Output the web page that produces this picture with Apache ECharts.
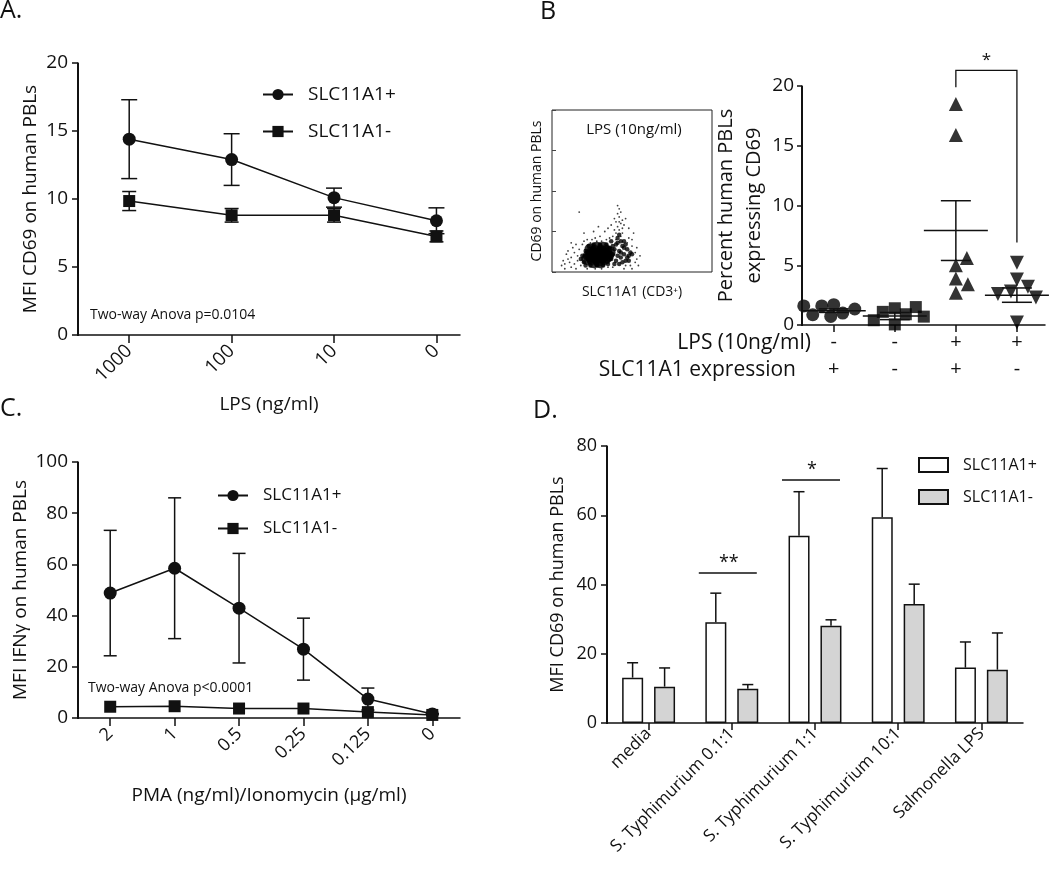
<!DOCTYPE html>
<html><head><meta charset="utf-8">
<script src="https://cdn.jsdelivr.net/npm/echarts@6/dist/echarts.min.js"></script>
<style>html,body{margin:0;padding:0;background:#fff}#c{width:1050px;height:876px}</style>
</head><body><div id="c"></div>
<script>
// ---------- Panel A ----------
const lpsDoses = ['1000', '100', '10', '0'];
const aPlusMean = [14.4, 12.9, 10.1, 8.4];
const aPlusErr = [2.9, 1.9, 0.7, 0.95];
const aMinusMean = [9.85, 8.8, 8.8, 7.25];
const aMinusErr = [0.7, 0.5, 0.5, 0.4];
// ---------- Panel B ----------
const bLpsRow = ['-', '-', '+', '+'];
const bSlcRow = ['+', '-', '+', '-'];
const bCircles = [1.7, 1.0, 1.6, 0.72, 1.34, 0.86, 1.6];
const bSquares = [1.4, 0.9, 0.05, 1.1, 1.5, 0.4, 0.7];
const bTriangles = [18.5, 15.9, 5.0, 5.6, 2.7, 3.9, 3.4];
const bInverted = [5.2, 3.8, 3.2, 2.8, 2.6, 2.3, 0.2];
const bMean = [1.2, 0.75, 7.9, 2.5];
const bSem = [0.15, 0.3, 2.5, 0.6];
const bBracket = [3, 4, 21.3, 19.9, 6.9]; // from group, to group, top, left end, right end
const flowCore = [[23,10],[25,8],[25,12],[27,9],[27,13],[29,7],[29,11],[31,9],[31,13],[33,8],[33,11],[35,10],[24,14],[28,15],[32,15],[26,6],[30,6],[34,13],[22,8],[36,12],[24,10],[26,11],[28,9],[30,12],[32,10],[34,9]];
const flowDense = [[37,8],[38,11],[39,14],[40,7],[41,10],[42,13],[43,9],[44,16],[45,11],[46,7],[47,14],[48,10],[49,12],[38,16],[40,17],[42,5],[44,6],[46,17],[48,7],[50,11],[36,15],[39,5],[41,18],[43,12],[45,15],[47,9],[20,6],[19,10],[21,13],[18,8],[21,4],[24,4],[28,4],[32,4],[35,5],[23,16],[26,17],[30,17],[34,17],[37,19],[43,19],[45,19],[41,21],[42,23]];
const flowSparse = [[40,24],[42,26],[41,28],[43,30],[40,31],[44,32],[42,34],[41,36],[43,37],[42,39],[41,41],[44,27],[39,26],[45,29],[43,22],[40,20],[44,24],[42,31],[46,33],[39,33],
  [17,37],[10,8],[8,5],[12,3],[14,12],[15,2],[6,4],[52,6],[55,10],[50,2],[53,15],[30,22],[25,20],[33,25],[28,19],[36,21],[20,19],[48,21],[51,24],[13,15],[9,11],[31,2],[38,3],[45,2],[27,2],[22,2],[18,4],[35,3],[54,4],[47,18],
  [16,7],[14,5],[11,6],[17,14],[19,17],[22,20],[24,18],[27,21],[31,19],[34,20],[38,22],[50,16],[52,12],[53,8],[49,4],[46,4],[16,10],[15,17],[12,9],[7,7],[10,13],[20,24],[26,25],[35,27],[48,27],[29,28],[37,29],[50,20],[12,18],[8,2]];
// ---------- Panel C ----------
const pmaDoses = ['2', '1', '0.5', '0.25', '0.125', '0'];
const cPlusMean = [48.8, 58.5, 42.9, 26.9, 7.4, 1.6];
const cPlusErr = [24.5, 27.5, 21.4, 12.1, 4.3, 0];
const cMinusMean = [4.4, 4.6, 3.7, 3.7, 2.3, 1.2];
// ---------- Panel D ----------
const dCats = ['media', 'S. Typhimurium 0.1:1', 'S. Typhimurium 1:1', 'S. Typhimurium 10:1', 'Salmonella LPS'];
const dPlusMean = [13.1, 29.1, 54.1, 59.4, 16.0];
const dPlusErr = [4.3, 8.4, 12.7, 14.1, 7.4];
const dMinusMean = [10.5, 9.9, 28.1, 34.4, 15.4];
const dMinusErr = [5.4, 1.2, 1.7, 5.7, 10.6];
const dSigCat = [1, 2];
const dSigY = [43.3, 70.2];
const dSigText = ['**', '*'];

const FONT = 'Open Sans';
const INK = '#111';
const chart = echarts.init(document.getElementById('c'), null, {renderer: 'canvas'});

const line = () => ({show: true, lineStyle: {color: INK, width: 1.5}});
const tick = (len, extra) => Object.assign({show: true, length: len, lineStyle: {color: INK, width: 1.5}}, extra || {});
const pos = arr => arr.map((_, i) => i + 1);   // groups sit at 1..n on value x axes

// beeswarm offsets (pixel collision), converted to axis units
function swarm(vals, center, pxX, pxY, d) {
  const placed = [];
  return vals.map(v => {
    const py = v * pxY;
    let off = 0;
    for (let k = 0; k < 400; k++) {
      const o = (k % 2 ? 1 : -1) * Math.ceil(k / 2);
      if (placed.every(p => (p[0] - o) ** 2 + (p[1] - py) ** 2 >= d * d)) { off = o; break; }
    }
    placed.push([off, py]);
    return [center + off / pxX, v];
  });
}
const B_MIN = 0.48, B_MAX = 4.46, B_W = 243, B_H = 239;
const pxBX = B_W / (B_MAX - B_MIN), pxBY = B_H / 20;

const gridBoxes = [
  {left: 78, top: 63, width: 382, height: 272},
  {left: 552, top: 110, width: 160, height: 162, show: true, borderColor: '#222', borderWidth: 1},
  {left: 802, top: 86, width: B_W, height: B_H},
  {left: 78, top: 462, width: 382, height: 256},
  {left: 607, top: 446, width: 416, height: 277}
];

function errSeries(name, xi, means, errs, opt) {
  const base = opt.base === undefined ? 1 : opt.base;
  return {
    type: 'custom', name: name, xAxisIndex: xi, yAxisIndex: xi, z: opt.z || 1, silent: true,
    data: means.map((m, i) => [i + base, m, errs[i]]),
    renderItem: (params, api) => {
      const x = api.value(0), m = api.value(1), e = api.value(2);
      const off = opt.offset || 0, cap = opt.cap / 2;
      const t = api.coord([x, m + e]);
      const b = api.coord([x, opt.down ? m - e : m]);
      const tx = t[0] + off;
      const st = {stroke: INK, lineWidth: 1.5};
      const ch = [
        {type: 'line', shape: {x1: tx, y1: t[1], x2: tx, y2: b[1]}, style: st},
        {type: 'line', shape: {x1: tx - cap, y1: t[1], x2: tx + cap, y2: t[1]}, style: st}
      ];
      if (opt.down) ch.push({type: 'line', shape: {x1: tx - cap, y1: b[1], x2: tx + cap, y2: b[1]}, style: st});
      return {type: 'group', children: ch};
    }
  };
}

const txt = (text, x, y, size, extra) => ({
  type: 'text', x: x, y: y, silent: true, z: 100,
  style: Object.assign({text: text, fontSize: size, fontFamily: FONT, fill: INK}, extra || {})
});
// left axis line of a grid, drawn as a thin filled strip along the grid's left edge
const axisEdge = g => ({
  type: 'rect', silent: true, z: 100,
  shape: {x: g.left - 1, y: g.top, width: 2, height: g.height + 1},
  style: {fill: INK}
});

const option = {
  animation: false,
  backgroundColor: '#fff',
  textStyle: {fontFamily: FONT, color: INK},
  grid: gridBoxes,
  xAxis: [
    {gridIndex: 0, type: 'value', min: 0.5, max: 4.23, splitLine: {show: false}, axisLine: line(),
     axisTick: tick(8, {customValues: pos(lpsDoses)}),
     axisLabel: {customValues: pos(lpsDoses), formatter: v => lpsDoses[v - 1], rotate: 45, fontSize: 19, color: INK, margin: 13},
     name: 'LPS (ng/ml)', nameLocation: 'middle', nameGap: 60, nameTextStyle: {fontSize: 19, color: INK}},
    {gridIndex: 1, type: 'value', min: 0, max: 100, splitLine: {show: false}, axisLine: {show: false},
     axisTick: {show: false}, axisLabel: {show: false},
     name: 'SLC11A1 (CD3⁺)', nameLocation: 'middle', nameGap: 13, nameTextStyle: {fontSize: 14, color: INK}},
    {gridIndex: 2, type: 'value', min: B_MIN, max: B_MAX, splitLine: {show: false}, axisLine: line(),
     axisTick: tick(7, {customValues: pos(bLpsRow)}),
     axisLabel: {customValues: pos(bLpsRow), formatter: v => bLpsRow[v - 1] + '\n' + bSlcRow[v - 1], fontSize: 20, lineHeight: 27, color: INK, margin: 4}},
    {gridIndex: 3, type: 'value', min: 0.5, max: 6.43, splitLine: {show: false}, axisLine: line(),
     axisTick: tick(8, {customValues: pos(pmaDoses)}),
     axisLabel: {customValues: pos(pmaDoses), formatter: v => pmaDoses[v - 1], rotate: 45, fontSize: 18, color: INK, margin: 13},
     name: 'PMA (ng/ml)/Ionomycin (μg/ml)', nameLocation: 'middle', nameGap: 68, nameTextStyle: {fontSize: 19, color: INK}},
    {gridIndex: 4, type: 'category', data: dCats, axisLine: line(),
     axisTick: tick(7, {alignWithLabel: true}),
     axisLabel: {interval: 0, rotate: 45, fontSize: 17, color: INK, margin: 8}}
  ],
  yAxis: [
    {gridIndex: 0, type: 'value', min: 0, max: 20, interval: 5, splitLine: {show: false}, axisLine: line(),
     axisTick: tick(6), axisLabel: {fontSize: 19, color: INK, margin: 10},
     name: 'MFI CD69 on human PBLs', nameLocation: 'middle', nameGap: 38, nameTextStyle: {fontSize: 19, color: INK}},
    {gridIndex: 1, type: 'value', min: 0, max: 100, interval: 25, splitLine: {show: false}, axisLine: {show: false},
     axisTick: {show: true, inside: true, length: 4, lineStyle: {color: '#444', width: 1}}, axisLabel: {show: false},
     name: 'CD69 on human PBLs', nameLocation: 'middle', nameGap: 8, nameTextStyle: {fontSize: 14, color: INK}},
    {gridIndex: 2, type: 'value', min: 0, max: 20, interval: 5, splitLine: {show: false}, axisLine: line(),
     axisTick: tick(5), axisLabel: {fontSize: 19, color: INK, margin: 8},
     name: 'Percent human PBLs\nexpressing CD69', nameLocation: 'middle', nameGap: 30, nameTextStyle: {fontSize: 20, lineHeight: 28, color: INK}},
    {gridIndex: 3, type: 'value', min: 0, max: 100, interval: 20, splitLine: {show: false}, axisLine: line(),
     axisTick: tick(6), axisLabel: {fontSize: 19, color: INK, margin: 10},
     name: 'MFI IFNγ on human PBLs', nameLocation: 'middle', nameGap: 48, nameTextStyle: {fontSize: 19, color: INK}},
    {gridIndex: 4, type: 'value', min: 0, max: 80, interval: 20, splitLine: {show: false}, axisLine: line(),
     axisTick: tick(6), axisLabel: {fontSize: 18, color: INK, margin: 10},
     name: 'MFI CD69 on human PBLs', nameLocation: 'middle', nameGap: 40, nameTextStyle: {fontSize: 18, color: INK}}
  ],
  legend: [
    {left: 257, top: 80, orient: 'vertical', itemGap: 18, itemWidth: 30, itemHeight: 14,
     data: ['SLC11A1+', 'SLC11A1-'], textStyle: {fontSize: 19, color: INK, padding: [0, 0, 0, 10]}, selectedMode: false},
    {left: 212, top: 482, orient: 'vertical', itemGap: 16, itemWidth: 30, itemHeight: 14,
     data: ['SLC11A1+', 'SLC11A1-'], textStyle: {fontSize: 17, color: INK, padding: [0, 0, 0, 10]}, selectedMode: false},
    {left: 913, top: 452, orient: 'vertical', itemGap: 16, itemWidth: 29, itemHeight: 14, icon: 'rect',
     data: ['D:SLC11A1+', 'D:SLC11A1-'], formatter: n => n.replace('D:', ''),
     textStyle: {fontSize: 16, color: INK, padding: [0, 0, 0, 10]}, selectedMode: false}
  ],
  series: [
    // ---- A ----
    errSeries('errA+', 0, aPlusMean, aPlusErr, {cap: 16, down: true}),
    errSeries('errA-', 0, aMinusMean, aMinusErr, {cap: 14, down: true}),
    {type: 'line', name: 'SLC11A1+', xAxisIndex: 0, yAxisIndex: 0, data: aPlusMean.map((v, i) => [i + 1, v]),
     symbol: 'circle', symbolSize: 13, lineStyle: {color: INK, width: 1.5}, itemStyle: {color: INK}, z: 3},
    {type: 'line', name: 'SLC11A1-', xAxisIndex: 0, yAxisIndex: 0, data: aMinusMean.map((v, i) => [i + 1, v]),
     symbol: 'rect', symbolSize: 12, lineStyle: {color: INK, width: 1.5}, itemStyle: {color: INK}, z: 3},
    // ---- B flow plot ----
    {type: 'scatter', name: 'flowSparse', xAxisIndex: 1, yAxisIndex: 1, data: flowSparse, symbolSize: 1.8, itemStyle: {color: '#111'}, silent: true},
    {type: 'scatter', name: 'flowDense', xAxisIndex: 1, yAxisIndex: 1, data: flowDense, symbolSize: 4.5, itemStyle: {color: '#000'}, silent: true},
    {type: 'scatter', name: 'flowCore', xAxisIndex: 1, yAxisIndex: 1, data: flowCore, symbolSize: 12, itemStyle: {color: '#000'}, silent: true},
    // ---- B scatter ----
    {type: 'scatter', name: 'circ', xAxisIndex: 2, yAxisIndex: 2, data: swarm(bCircles, 1, pxBX, pxBY, 12), symbol: 'circle', symbolSize: 13, itemStyle: {color: '#000'}, z: 3},
    {type: 'scatter', name: 'sq', xAxisIndex: 2, yAxisIndex: 2, data: swarm(bSquares, 2, pxBX, pxBY, 12), symbol: 'rect', symbolSize: 12, itemStyle: {color: '#000'}, z: 3},
    {type: 'scatter', name: 'tri', xAxisIndex: 2, yAxisIndex: 2, data: swarm(bTriangles, 3, pxBX, pxBY, 13), symbol: 'triangle', symbolSize: 14, itemStyle: {color: '#000'}, z: 3},
    {type: 'scatter', name: 'inv', xAxisIndex: 2, yAxisIndex: 2, data: swarm(bInverted, 4, pxBX, pxBY, 13), symbol: 'triangle', symbolRotate: 180, symbolSize: 14, itemStyle: {color: '#000'}, z: 3},
    {type: 'custom', name: 'bsum', xAxisIndex: 2, yAxisIndex: 2, silent: true, z: 4,
     data: bMean.map((m, i) => [i + 1, m, bSem[i]]),
     renderItem: (params, api) => {
       const i = api.value(0), m = api.value(1), s = api.value(2);
       const c = api.coord([i, m]), lo = api.coord([i, m - s]), hi = api.coord([i, m + s]);
       const st = {stroke: INK, lineWidth: 1.5};
       return {type: 'group', children: [
         {type: 'line', shape: {x1: c[0] - 32, y1: c[1], x2: c[0] + 32, y2: c[1]}, style: st},
         {type: 'line', shape: {x1: c[0] - 15, y1: lo[1], x2: c[0] + 15, y2: lo[1]}, style: st},
         {type: 'line', shape: {x1: c[0] - 15, y1: hi[1], x2: c[0] + 15, y2: hi[1]}, style: st},
         {type: 'line', shape: {x1: c[0], y1: lo[1], x2: c[0], y2: hi[1]}, style: st}
       ]};
     }},
    {type: 'custom', name: 'bsig', xAxisIndex: 2, yAxisIndex: 2, silent: true, clip: false,
     data: [bBracket],
     renderItem: (params, api) => {
       const a = api.coord([api.value(0), api.value(2)]), b = api.coord([api.value(1), api.value(2)]);
       const l = api.coord([api.value(0), api.value(3)]), r = api.coord([api.value(1), api.value(4)]);
       return {type: 'group', children: [
         {type: 'polyline', shape: {points: [l, a, b, r]}, style: {stroke: INK, lineWidth: 1.3, fill: null}},
         {type: 'text', x: (a[0] + b[0]) / 2, y: a[1] - 2, style: {text: '*', fontSize: 17, fontFamily: FONT, fill: INK, align: 'center', verticalAlign: 'bottom'}}
       ]};
     }},
    // ---- C ----
    errSeries('errC+', 3, cPlusMean, cPlusErr, {cap: 13, down: true}),
    {type: 'line', name: 'SLC11A1+', xAxisIndex: 3, yAxisIndex: 3, data: cPlusMean.map((v, i) => [i + 1, v]),
     symbol: 'circle', symbolSize: 13, lineStyle: {color: INK, width: 1.5}, itemStyle: {color: INK}, z: 3},
    {type: 'line', name: 'SLC11A1-', xAxisIndex: 3, yAxisIndex: 3, data: cMinusMean.map((v, i) => [i + 1, v]),
     symbol: 'rect', symbolSize: 12, lineStyle: {color: INK, width: 1.5}, itemStyle: {color: INK}, z: 3},
    // ---- D ----
    {type: 'bar', name: 'D:SLC11A1+', xAxisIndex: 4, yAxisIndex: 4, data: dPlusMean, barWidth: 21, barGap: '52%',
     itemStyle: {color: '#fff', borderColor: INK, borderWidth: 1.5}},
    {type: 'bar', name: 'D:SLC11A1-', xAxisIndex: 4, yAxisIndex: 4, data: dMinusMean, barWidth: 21,
     itemStyle: {color: '#d4d4d4', borderColor: INK, borderWidth: 1.5}},
    errSeries('errD+', 4, dPlusMean, dPlusErr, {cap: 11, offset: -16, z: 3, base: 0}),
    errSeries('errD-', 4, dMinusMean, dMinusErr, {cap: 11, offset: 16, z: 3, base: 0}),
    {type: 'custom', name: 'dsig', xAxisIndex: 4, yAxisIndex: 4, silent: true, clip: false,
     data: dSigCat.map((c, i) => [c, dSigY[i], i]),
     renderItem: (params, api) => {
       const p = api.coord([api.value(0), api.value(1)]);
       return {type: 'group', children: [
         {type: 'line', shape: {x1: p[0] - 33, y1: p[1], x2: p[0] + 25, y2: p[1]}, style: {stroke: INK, lineWidth: 1.5}},
         {type: 'text', x: p[0] - 3, y: p[1] - 1, style: {text: dSigText[api.value(2)], fontSize: 18, fontFamily: FONT, fill: INK, align: 'center', verticalAlign: 'bottom'}}
       ]};
     }}
  ],
  graphic: [
    axisEdge(gridBoxes[0]),
    axisEdge(gridBoxes[2]),
    axisEdge(gridBoxes[3]),
    axisEdge(gridBoxes[4]),
    txt('A.', 0, -2, 25),
    txt('B', 540, -1, 25),
    txt('C.', 0, 396, 25),
    txt('D.', 533, 398, 25),
    txt('Two-way Anova p=0.0104', 90, 315, 14, {verticalAlign: 'middle'}),
    txt('Two-way Anova p<0.0001', 88, 688, 14, {verticalAlign: 'middle'}),
    txt('LPS (10ng/ml)', 634, 130, 15, {align: 'center', verticalAlign: 'middle'}),
    txt('LPS (10ng/ml)', 811, 343, 21, {align: 'right', verticalAlign: 'middle'}),
    txt('SLC11A1 expression', 796, 370, 21, {align: 'right', verticalAlign: 'middle'})
  ]
};
chart.setOption(option);
</script>
</body></html>
